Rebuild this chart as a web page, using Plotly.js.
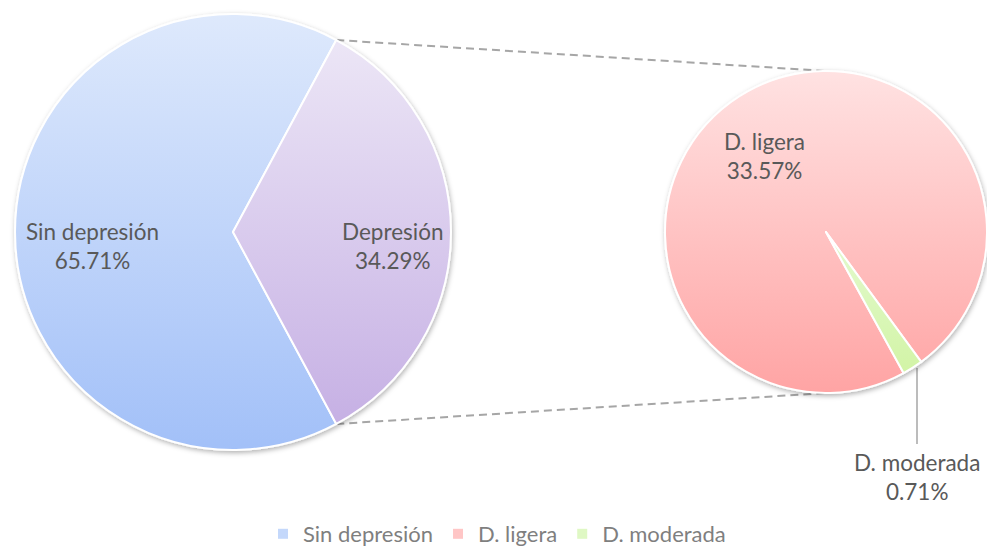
<!DOCTYPE html>
<html><head><meta charset="utf-8">
<script src="https://cdn.plot.ly/plotly-3.0.1.min.js"></script>
<style>html,body{margin:0;padding:0;background:#fff;}#chart{width:987px;height:550px;}</style>
</head><body><div id="chart"></div>
<script>
// ---- data ----
const mainLabels = ["Sin depresión", "Depresión"];
const mainValues = [65.71, 34.29];
const subLabels = ["D. ligera", "D. moderada"];
const subValues = [33.57, 0.71];
const legendLabels = ["Sin depresión", "D. ligera", "D. moderada"];
const mainColors = ["#bcd3fa", "#d9cbee"];
const subColors = ["#ffc3c3", "#dcf7bf"];
const legendColors = ["#c4d8fb", "#ffc6c6", "#dff8c4"];

// ---- geometry (px) ----
const W = 987, H = 550;
const L = {cx: 233, cy: 232, r: 218};
const R = {x0: 665, x1: 987, cy: 232};
const Rr = (R.x1 - R.x0) / 2;
const Rcx = (R.x0 + R.x1) / 2;
const px = x => x / W, py = y => 1 - y / H;

const mainTotal = mainValues.reduce((a, b) => a + b, 0);
const depFrac = mainValues[1] / mainTotal;
const mainRotation = 90 + depFrac * 180;   // Depresión centred at 3 o'clock
const subRotation = 151.2;

// connector end points on the first pie
const aTop = (mainRotation + 360 * (1 - depFrac)) * Math.PI / 180;
const aBot = mainRotation * Math.PI / 180;
const topPt = [L.cx + L.r * Math.sin(aTop), L.cy - L.r * Math.cos(aTop)];
const botPt = [L.cx + L.r * Math.sin(aBot), L.cy - L.r * Math.cos(aBot)];

const pct = v => v.toFixed(2) + "%";
const FAM = "Lato, 'Open Sans', sans-serif";
const lblFont = {family: FAM, size: 22.5, color: "#595959"};

const data = [
  {
    type: "pie", labels: mainLabels, values: mainValues, sort: false,
    direction: "clockwise", rotation: mainRotation,
    domain: {x: [px(L.cx - L.r), px(L.cx + L.r)], y: [py(L.cy + L.r), py(L.cy - L.r)]},
    marker: {colors: mainColors, line: {color: "#ffffff", width: 2}},
    textinfo: "none", hoverinfo: "label+percent", showlegend: false
  },
  {
    type: "pie", labels: subLabels, values: subValues, sort: false,
    direction: "clockwise", rotation: subRotation,
    domain: {x: [px(R.x0), px(R.x1)], y: [py(R.cy + Rr), py(R.cy - Rr)]},
    marker: {colors: subColors, line: {color: "#ffffff", width: 2}},
    textinfo: "none", hoverinfo: "label+value", showlegend: false
  }
];
legendLabels.forEach((name, i) => {
  data.push({
    type: "scatter", x: [null], y: [null], mode: "markers", name: name,
    marker: {symbol: "square", size: 10, color: legendColors[i]},
    hoverinfo: "skip", showlegend: true
  });
});

const dashLine = {color: "#a6a6a6", width: 2, dash: "8px,5px"};
const ann = (x, y, text) => ({xref: "paper", yref: "paper", x: px(x), y: py(y),
  xanchor: "center", yanchor: "middle", showarrow: false, align: "center", text: text, font: lblFont});

const layout = {
  width: W, height: H,
  margin: {l: 0, r: 0, t: 0, b: 0, autoexpand: false},
  paper_bgcolor: "#ffffff", plot_bgcolor: "rgba(0,0,0,0)",
  xaxis: {visible: false, range: [0, 1], fixedrange: true},
  yaxis: {visible: false, range: [0, 1], fixedrange: true},
  showlegend: true,
  legend: {
    orientation: "h", x: px(497), xanchor: "center", y: py(534), yanchor: "middle",
    font: {family: FAM, size: 22, color: "#7f7f7f"},
    bgcolor: "rgba(0,0,0,0)", itemclick: false, itemdoubleclick: false
  },
  shapes: [
    {type: "line", xref: "paper", yref: "paper", layer: "below",
     x0: px(topPt[0]), y0: py(topPt[1]), x1: px(Rcx), y1: py(R.cy - Rr), line: dashLine},
    {type: "line", xref: "paper", yref: "paper", layer: "below",
     x0: px(botPt[0]), y0: py(botPt[1]), x1: px(Rcx), y1: py(R.cy + Rr), line: dashLine},
    {type: "line", xref: "paper", yref: "paper", layer: "below",
     x0: px(917), y0: py(368), x1: px(917), y1: py(444), line: {color: "#a6a6a6", width: 1.5}}
  ],
  annotations: [
    ann(92, 246, mainLabels[0] + "<br>" + pct(mainValues[0])),
    ann(393, 246, mainLabels[1] + "<br>" + pct(mainValues[1])),
    ann(764, 156, subLabels[0] + "<br>" + pct(subValues[0])),
    ann(917, 477, subLabels[1] + "<br>" + pct(subValues[1]))
  ]
};

const gradStops = [
  [["#dee9fc", "#a2c0f8"], ["#ece6f6", "#c6b0e4"]],
  [["#ffe2e2", "#ffa4a4"], ["#e4fad0", "#d2f4a6"]]
];

Plotly.newPlot("chart", data, layout, {staticPlot: true}).then(gd => {
  const NS = "http://www.w3.org/2000/svg";
  const svg = gd.querySelector("svg.main-svg");
  let defs = svg.querySelector("defs");
  if (!defs) { defs = document.createElementNS(NS, "defs"); svg.insertBefore(defs, svg.firstChild); }
  gradStops.forEach((tr, ti) => tr.forEach((st, si) => {
    const g = document.createElementNS(NS, "linearGradient");
    g.setAttribute("id", "pg" + ti + "_" + si);
    g.setAttribute("x1", "0"); g.setAttribute("y1", "0");
    g.setAttribute("x2", "0"); g.setAttribute("y2", "1");
    [[0, st[0]], [1, st[1]]].forEach(([o, c]) => {
      const s = document.createElementNS(NS, "stop");
      s.setAttribute("offset", o); s.setAttribute("stop-color", c);
      g.appendChild(s);
    });
    defs.appendChild(g);
  }));
  const f = document.createElementNS(NS, "filter");
  f.setAttribute("id", "pieShadow");
  f.setAttribute("x", "-10%"); f.setAttribute("y", "-10%");
  f.setAttribute("width", "120%"); f.setAttribute("height", "120%");
  const ds = document.createElementNS(NS, "feDropShadow");
  ds.setAttribute("dx", "1"); ds.setAttribute("dy", "2");
  ds.setAttribute("stdDeviation", "2.5");
  ds.setAttribute("flood-color", "#000"); ds.setAttribute("flood-opacity", "0.3");
  f.appendChild(ds); defs.appendChild(f);

  gd.querySelectorAll(".pielayer .trace").forEach((t, ti) => {
    t.setAttribute("filter", "url(#pieShadow)");
    t.querySelectorAll("path.surface").forEach((p, si) => {
      p.style.fill = "url(#pg" + ti + "_" + si + ")";
    });
  });
});
</script>
</body></html>
